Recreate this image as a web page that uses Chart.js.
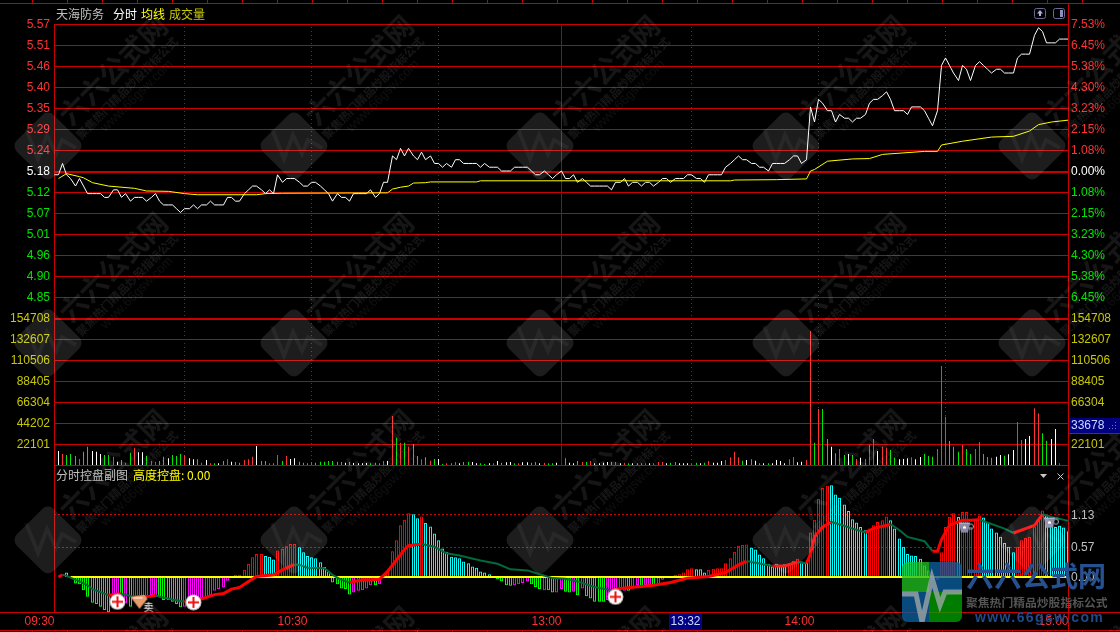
<!DOCTYPE html>
<html><head><meta charset="utf-8">
<style>html,body{margin:0;padding:0;background:#000;overflow:hidden}canvas{display:block}</style>
<script src="https://cdn.jsdelivr.net/npm/chart.js@4"></script></head>
<body><canvas id="c" width="1120" height="632"></canvas>
<script>
// ---- DATA ----
const stockName="天海防务";
const prevClose=5.18;
const priceLabels=["5.57","5.51","5.46","5.40","5.35","5.29","5.24","5.18","5.12","5.07","5.01","4.96","4.90","4.85"];
const pctLabels=["7.53%","6.45%","5.38%","4.30%","3.23%","2.15%","1.08%","0.00%","1.08%","2.15%","3.23%","4.30%","5.38%","6.45%"];
const volTicks=[154708,132607,110506,88405,66304,44202,22101,0];
const subLabels=["1.13","0.57","0.00"];
const subTicks=[1.14,0.55,0];
const timeLabels=["09:30","10:30","13:00","14:00","15:00"];
const timeIdx=[0,60,120,180,240];
const dottedIdx=[30.8,61,91,150.8,181,211];
const solidIdx=[120];
// price in cents per minute
const priceCents=[
517,517,520,517,516,514,516,514,512,512,
512,512,511,511,513,513,511,512,510,511,
511,511,510,511,512,510,509,509,509,508,
507,508,508,509,508,509,509,510,509,509,
509,511,511,510,510,512,513,514,514,513,
512,513,512,517,515,516,516,516,515,514,
514,515,515,514,513,512,510,512,511,511,
510,512,512,512,512,513,511,512,515,515,
522,521,524,522,524,522,521,523,521,522,
520,520,519,520,519,521,521,520,520,520,
520,519,520,519,519,519,518,518,518,519,
519,519,519,518,517,517,518,517,516,517,
518,516,516,517,515,516,515,514,514,514,
514,514,513,515,515,516,514,515,515,514,
515,515,514,515,516,516,515,516,516,516,
517,517,516,516,515,517,517,517,517,519,
520,521,522,521,521,520,520,519,519,518,
520,520,520,520,521,522,522,520,521,535,
531,537,536,534,534,531,533,532,532,531,
532,532,533,536,537,537,538,539,537,534,
534,534,533,535,535,535,534,532,530,534,
546,548,546,544,542,546,545,542,546,547,
546,545,544,545,545,544,544,544,548,549,
549,549,554,556,555,552,552,552,553,553,553];
// average line: minute index and price (cents)
const avgIdx=[1,3,6,7,9,13,19,22,27,31,34,48,50,54,79,80,82,84,85,88,89,100,101,160,161,171,178,179,180,183,189,193,196,206,209,210,215,222,227,231,233,236,240];
const avgCents=[516,517.3,516.5,516.2,514.9,514,513.4,512.7,512.6,512,511.7,511.7,512,512.1,512.2,513.2,513.7,514,514.8,514.9,515.1,515.1,515.4,515.4,515.6,515.7,515.9,518,518.4,520.6,521.2,521.3,522.4,523.2,523.2,524.9,525.9,527,527.2,528.6,530.3,531,531.5];
const volumes=[
null,14742,11583,10530,11583,9477,6318,14040,19305,14742,
14040,11583,10530,10530,8775,3510,5265,2457,12987,18252,
13338,13338,9477,4212,3510,4212,8775,7020,10530,9477,
11583,10530,7020,5967,5967,2457,5265,1755,1755,1755,
4212,5967,3510,3159,2457,5265,5967,8775,20007,4212,
4212,1755,1755,10530,4212,9477,6318,7020,3510,2457,
1755,3159,2457,3510,3510,4212,4212,3510,3159,2457,
3159,2106,1755,1755,2106,1755,2457,1755,4212,4212,
51597,28782,23517,23517,19305,22113,9477,5967,8073,4563,
6318,6318,1053,1755,1755,3159,1755,3159,3159,3159,
1755,1755,1053,1755,1755,4212,2457,2808,3159,1755,
1755,2808,2808,2457,3159,1755,2457,1755,1755,2457,
null,7020,2457,1755,4212,3159,3159,4212,1755,1755,
2457,3159,3159,3159,1755,2457,1755,1755,1755,1755,
1755,1755,1755,3159,3159,1755,2457,3159,1755,1755,
1755,1755,2457,1755,2457,4212,2457,2457,4212,5265,
8073,14040,8073,4563,5265,5967,4563,1755,1755,1755,
1755,5265,4212,1755,5967,8424,2808,3510,5265,141102,
23517,58968,58968,27378,19305,12285,16848,10530,11583,10530,
6318,7722,6318,21060,27378,14742,19305,18252,15795,7722,
5967,6318,7020,8073,5967,8424,11583,9477,8775,16848,
104247,50895,25272,19305,14040,21060,16848,11583,16848,24219,
11583,8424,7722,8775,10530,9828,11232,15795,45279,26325,
27378,30537,59670,54405,33345,25623,27378,37908,1755,null,19305];
// tick direction per minute: r up, g down, w flat
const volDir=(".wrgggrggw"+"wwggrwgrgr"+"wwgrrggwgg"+"grwwgrwrgw"+"grwggrrrwg"+"grgrgrwwgg"+"grgggggggw"+"gwwwwgggrw"+"rgrgrggrgr"+"gwgrgrwggw"+"wggwrwgwwg"+"rwwggwrggw"+".gwwgrgrww"+"wwgrwrgwgg"+"rwrrrwggww"+"wrgwgrwwwr"+"rrrgwgwgwg"+"wwwwrrwwrr"+"grggwgrgwg"+"rwrrrwrrgg"+"wwwrwwgggr"+"rrgggrggrr"+"gggwwgwwrr"+"wwrrggwwr."+"w").split("");
// sub-indicator histogram per minute
const subBars=[
null,null,null,.08,null,-.12,-.13,-.24,-.36,-.47,
-.49,-.54,-.60,-.64,-.42,-.36,-.33,-.48,-.54,-.39,
-.39,-.39,-.36,-.33,-.36,-.36,-.42,-.42,-.45,-.49,
-.55,-.54,-.48,-.42,-.40,-.39,-.37,-.33,-.25,-.22,
-.19,-.07,null,.04,.04,.13,.24,.36,.42,.42,
.38,.37,.32,.48,.51,.56,.60,.60,.54,.45,
.38,.36,.34,.27,.18,.10,-.10,-.13,-.21,-.22,
-.32,-.28,-.25,-.24,-.21,-.15,-.15,-.13,.01,.10,
.47,.67,.94,1.04,1.16,1.14,1.07,1.10,.98,.92,
.79,.67,.52,.46,.37,.36,.34,.28,.25,.19,
.17,.10,.08,.05,null,-.04,-.08,-.15,-.16,-.15,
-.13,-.11,-.08,-.13,-.18,-.22,-.24,-.24,-.28,-.28,
-.22,-.27,-.28,-.27,-.33,-.21,-.35,-.39,-.45,-.45,
-.45,-.42,-.36,-.30,-.22,-.25,-.25,-.21,-.15,-.19,
-.15,-.15,-.15,-.13,-.05,null,null,.04,.05,.08,
.14,.16,.14,.14,.08,.13,.15,.16,.16,.25,
.34,.46,.57,.58,.59,.53,.50,.41,.34,.24,
.19,.24,.22,.23,.24,.29,.33,.28,.26,.81,
1.04,1.42,1.62,1.66,1.67,1.50,1.44,1.32,1.20,1.05,
.99,.91,.85,.88,.94,1.00,1.03,1.10,1.03,.88,
.70,.55,.42,.39,.38,.33,.21,.12,-.06,-.05,
.45,.91,1.09,1.16,1.09,1.18,1.18,.91,1.06,1.12,
1.08,1.00,.88,.81,.73,.62,.55,.45,.55,.67,
.71,.73,.92,1.06,1.21,1.12,1.00,.91,.93,.90,.83];
const subKind=("...c.ggggg"+"ggggmmgmgm"+"mmmmmggggg"+"gmmmmmmmmm"+"mm.rrrrrrr"+"cccrrrrrcc"+"ccccccgggg"+"gmmmmmgmrr"+"rrrrrccrcc"+"cccccccccc"+"cccc.ggggm"+"mmmgggmggm"+"mggmgmgggg"+"gmmmmmgmmg"+"mmgmm..rrr"+"rrcccrrrrr"+"rrrrrccccc"+"ccccrrrccr"+"rrrrcccccc"+"cccrrrrrcc"+"ccccccccgm"+"rrrrcrrrrr"+"ccccccccrr"+"rrrrrccccc"+"c").split("");
// sub-indicator control line
const subLineIdx=[1,2,3,4,6,8,9,13,15,16,19,23,24,25,28,31,35,38,40,42,44,46,48,52,54,57,58,60,64,66,68,70,73,75,77,79,81,83,84,87,90,93,96,101,105,108,112,115,118,121,124,128,132,134,142,146,150,155,159,162,164,166,170,173,176,178,179,180,182,184,186,189,192,194,198,200,202,206,208,209,210,212,215,217,219,225,227,230,232,234,236,240];
const subLineVal=[0,.04,.02,-.01,-.08,-.15,-.22,-.33,-.31,-.31,-.36,-.35,-.33,-.36,-.41,-.45,-.40,-.32,-.30,-.22,-.19,-.08,.01,.04,.13,.23,.22,.17,.16,.04,-.05,-.10,-.05,-.05,-.04,.10,.31,.50,.57,.60,.55,.43,.39,.30,.24,.14,.12,.05,-.02,-.03,-.08,-.18,-.24,-.21,-.15,-.10,-.02,.01,.08,.22,.29,.26,.20,.20,.27,.25,.42,.73,.91,1.00,.96,.88,.81,.88,.96,.85,.73,.65,.47,.47,.68,.94,1.03,1.03,1.04,.88,.80,.88,.94,1.14,1.09,1.02];
const zeroLineIdx=[4,240];
const buyIdx=[15,33,133], buyVal=[-.45,-.46,-.36];
const sellIdx=[21], sellVal=[-.47];
const cupIdx=[216,236], cupVal=[.89,.98];
const watchVolume="33678", crossTime="13:32", controlValue="0.00";

// ---- STYLE ----
const RED="#c80000", UP="#ff3232", DOWN="#00e600", OLIVE="#c8c800", GREY="#c0c0c0";
const volColor={r:"#ff3232",g:"#00e600",w:"#ffffff",".":"#000"};
const subColor={r:"#ff0000",c:"#00ffff",g:"#00ff00",m:"#ff00ff",".":"#000"};
const NUM='"Liberation Sans",Arial,sans-serif', CJK='"Noto Sans CJK SC",sans-serif';

function mk(w,h,fn){const c=document.createElement('canvas');c.width=w;c.height=h;fn(c.getContext('2d'),w,h);return c;}
const buyIcon=mk(17,17,(g)=>{g.fillStyle='#bbb';g.beginPath();g.arc(8.5,8.5,8,0,7);g.fill();g.fillStyle='#fff';g.beginPath();g.arc(8.5,8.5,7,0,7);g.fill();g.fillStyle='#f01010';g.fillRect(3,7.5,11,2);g.fillRect(7.5,3,2,11);});
const sellIcon=mk(26,20,(g)=>{g.fillStyle='#e89a6a';g.beginPath();g.moveTo(1,4);g.lineTo(15,2);g.lineTo(18,6);g.lineTo(10,16);g.closePath();g.fill();g.fillStyle='#f6d0b8';g.fillRect(4,4,9,2);g.fillStyle='#fff';g.font='10px '+CJK;g.textBaseline='middle';g.fillText('卖',14,14);});
const cupIcon=mk(17,15,(g)=>{g.strokeStyle='#b0b0c8';g.lineWidth=1;g.beginPath();g.arc(13,6,2.5,0,7);g.stroke();g.fillStyle='#8a8aa8';g.beginPath();g.moveTo(1,2);g.lineTo(12,2);g.lineTo(10,12);g.lineTo(3,12);g.closePath();g.fill();g.fillStyle='#fff';g.fillRect(5,6,3,2);g.fillStyle='#e0c080';g.fillRect(6,5,1,1);g.fillStyle='#c0c0e0';g.fillRect(1,2,11,1);});

const closeStep=(5.57-prevClose)/7;
const priceVals=priceLabels.map((_,k)=>5.57-k*closeStep);
const zip=(xs,ys,f=v=>v)=>xs.map((x,i)=>({x,y:f(ys[i])}));
const idx=a=>a.map((v,i)=>({x:i,y:v}));

function axis(id,o){return Object.assign({type:'linear',display:true,offset:false,
  afterFit(s){s.width=o.w;},
  afterBuildTicks(s){s.ticks=o.vals.map(value=>({value}));},
  border:{display:false},
  grid:{display:false,drawTicks:false},
  ticks:{autoSkip:false,padding:o.pad,labelOffset:1,font:{family:NUM,size:12},color:o.color,callback:o.label,maxRotation:0}
},o.base);}
const priceColor=ctx=>{const k=ctx.index;return k<7?UP:k===7?'#ffffff':DOWN;};

const scales={
 x:{type:'linear',min:0,max:240,position:'bottom',offset:false,
    afterFit(s){s.height=20;},
    afterBuildTicks(s){ if(!s._snap){s._snap=true;const f=s.getPixelForValue;s.getPixelForValue=function(v,i){return Math.floor(f.call(this,v,i))+0.5;};}
      s.ticks=timeIdx.map(value=>({value}));},
    border:{display:false},grid:{display:false,drawTicks:false,offset:false},
    ticks:{autoSkip:false,align:'end',padding:2,maxRotation:0,font:{family:NUM,size:12},color:UP,callback:(v,i)=>timeLabels[i]}},
 pL:axis('pL',{w:54,vals:priceVals,pad:4,color:priceColor,label:(v,i)=>priceLabels[i],
    base:{position:'left',stack:'L',stackWeight:273,weight:3,min:priceVals[13],max:5.57}}),
 vL:axis('vL',{w:54,vals:volTicks,pad:4,color:OLIVE,label:v=>v?String(v):'',
    base:{position:'left',stack:'L',stackWeight:168,weight:2,min:0,max:176808}}),
 sL:axis('sL',{w:54,vals:subTicks.slice(0,2),pad:4,color:'#000',label:()=>'',
    base:{position:'left',stack:'L',stackWeight:147,weight:1,min:-.636,max:2.036}}),
 pR:axis('pR',{w:52,vals:priceVals,pad:3,color:priceColor,label:(v,i)=>pctLabels[i],
    base:{position:'right',stack:'R',stackWeight:273,weight:1,min:priceVals[13],max:5.57}}),
 vR:axis('vR',{w:52,vals:volTicks,pad:3,color:OLIVE,label:v=>v?String(v):'',
    base:{position:'right',stack:'R',stackWeight:168,weight:2,min:0,max:176808}}),
 sR:axis('sR',{w:52,vals:subTicks,pad:3,color:GREY,label:(v,i)=>subLabels[i],
    base:{position:'right',stack:'R',stackWeight:147,weight:3,min:-.636,max:2.036}})
};

// frame, grid, watermark, captions
const chrome={id:'chrome',
 beforeDatasetsDraw(ch){const g=ch.ctx,a=ch.chartArea,x=ch.scales.x,top=a.top,volB=ch.scales.vL.bottom;
  g.save();g.fillStyle=RED;
  const W=a.right-a.left;
  priceVals.forEach((v,k)=>{const y=Math.round(ch.scales.pL.getPixelForValue(v));g.fillRect(a.left,y,W,k===7?2:1);});
  volTicks.forEach((v,k)=>{const y=Math.round(ch.scales.vL.getPixelForValue(v));g.fillRect(a.left,y,W,k===0?2:1);});
  subTicks.slice(0,2).forEach(v=>{const y=Math.round(ch.scales.sL.getPixelForValue(v));for(let p=a.left;p<a.right;p+=4)g.fillRect(p,y,2,1);});
  g.fillRect(0,3,1120,1);g.fillRect(0,a.bottom,1120,1);g.fillRect(0,630,1120,1);
  g.fillRect(54,a.top,1,a.bottom-a.top);g.fillRect(1068,3,1,629);
  for(let t=1082;t>0;t-=35){g.fillRect(t,0,1,3);g.fillRect(t,630,1,2);}
  solidIdx.forEach(i=>{const p=Math.floor(x.getPixelForValue(i));g.fillStyle='#b00000';g.fillRect(p,top,1,volB-top);});
  g.fillStyle=RED;
  dottedIdx.forEach(i=>{const p=Math.floor(x.getPixelForValue(i));for(let y=top+3;y<volB-3;y+=4)g.fillRect(p,y,1,1);});
  g.restore();},
 afterDraw(ch){const g=ch.ctx;g.save();
  // watermark tiles
  for(const cy of [-50,146,343,540,737])for(const cx of [48,294,540,786,1032]){
   g.save();g.translate(cx,cy);
   g.save();g.rotate(Math.PI/4);g.fillStyle='rgba(255,255,255,.115)';g.beginPath();g.roundRect(-26,-26,52,52,8);g.fill();g.restore();
   g.strokeStyle='rgba(255,255,255,.05)';g.lineWidth=4;g.beginPath();g.moveTo(-22,-17);g.lineTo(-10,13);g.lineTo(-1,-11);g.lineTo(8,8);g.lineTo(14,-6);g.lineTo(28,2);g.stroke();
   g.fillStyle='rgba(255,255,255,.085)';g.textAlign='center';g.textBaseline='middle';
   g.save();g.translate(65,-76);g.rotate(-Math.PI/4);g.font='bold 28px '+CJK;g.fillText('六六公式网',0,0);g.restore();
   g.save();g.translate(79,-58);g.rotate(-Math.PI/4);g.font='bold 11.5px '+CJK;g.fillText('聚焦热门精品炒股指标公式',0,0);g.restore();
   g.fillStyle='rgba(255,255,255,.06)';
   g.save();g.translate(89,-50);g.rotate(-Math.PI/4);g.font='13px '+NUM;g.fillText('www.66gsw.com',0,0);g.restore();
   g.restore();
  }
  // captions
  g.textBaseline='middle';g.textAlign='left';
  const cap=(t,x,y,c,f)=>{g.fillStyle=c;g.font=f||('12px '+CJK);g.fillText(t,x,y);};
  cap(stockName,56,14,GREY);cap('分时',113,14,'#ffffff');cap('均线',141,14,'#ffff00');cap('成交量',169,14,OLIVE);
  cap('分时控盘副图',56,475,GREY);cap('高度控盘: '+controlValue,133,475,'#ffff00');
  // header icons
  g.strokeStyle='#6a6a9a';g.lineWidth=1;
  for(const ix of [1034.5,1053.5]){g.beginPath();g.roundRect(ix,8.5,11,10,2);g.stroke();}
  g.fillStyle='#b0b0d0';g.beginPath();g.moveTo(1040,10);g.lineTo(1043,13.5);g.lineTo(1037,13.5);g.closePath();g.fill();g.fillRect(1039,13,2,3);
  g.fillStyle='#9090b8';g.fillRect(1060,10,3,7);
  g.fillStyle='#c8c8c8';g.beginPath();g.moveTo(1040,474);g.lineTo(1047,474);g.lineTo(1043.5,478);g.closePath();g.fill();
  g.strokeStyle='#c8c8c8';g.beginPath();g.moveTo(1057.5,473.5);g.lineTo(1063.5,479.5);g.moveTo(1063.5,473.5);g.lineTo(1057.5,479.5);g.stroke();
  // cursor boxes
  g.fillStyle='#000080';g.fillRect(669,613,33,17);g.strokeStyle='#0000c0';g.strokeRect(669.5,613.5,32,16);
  g.fillStyle='#c8d8ff';g.textAlign='center';g.font='12px '+NUM;g.fillText(crossTime,685.5,622);
  g.fillStyle='#000080';g.fillRect(1069,418,51,15);g.fillStyle=RED;g.fillRect(1069,433,51,1);
  g.fillStyle='#c8d8ff';g.textAlign='left';g.fillText(watchVolume,1071,426);g.fillStyle='#6080c0';g.fillRect(1109,428,1,1);g.fillRect(1112,425,1,1);g.fillRect(1112,428,1,1);g.fillRect(1115,422,1,1);g.fillRect(1115,425,1,1);g.fillRect(1115,428,1,1);
  // brand logo
  g.save();g.globalAlpha=.78;g.beginPath();g.roundRect(902,562,60,60,6);g.clip();
  g.fillStyle='#20c020';g.fillRect(902,562,27,30);g.fillStyle='#0a5f9e';g.fillRect(929,562,33,30);
  g.fillStyle='#0a5f9e';g.fillRect(902,592,27,30);g.fillStyle='#00a000';g.fillRect(929,592,33,30);
  g.strokeStyle='#a0a8a8';g.lineWidth=5;g.beginPath();g.moveTo(902,594);g.lineTo(916,594);g.lineTo(922,622);g.lineTo(932,578);g.lineTo(940,605);g.lineTo(945,592);g.lineTo(962,592);g.stroke();
  g.restore();
  g.fillStyle='#27508f';g.font='bold 28px '+CJK;g.textAlign='left';g.fillText('六六公式网',966,576);
  g.fillStyle='#555';g.font='bold 11.8px '+CJK;g.fillText('聚焦热门精品炒股指标公式',966,603);
  g.fillStyle='#1f4a8c';g.font='bold 14px '+NUM;g.letterSpacing='1.4px';g.fillText('www.66gsw.com',975,618);
  g.letterSpacing='0px';
  g.restore();}
};

new Chart(document.getElementById('c'),{
 data:{datasets:[
  {type:'scatter',xAxisID:'x',yAxisID:'sR',data:zip(buyIdx,buyVal),pointStyle:buyIcon,pointRadius:8},
  {type:'scatter',xAxisID:'x',yAxisID:'sR',data:zip(sellIdx,sellVal),pointStyle:sellIcon,pointRadius:8},
  {type:'scatter',xAxisID:'x',yAxisID:'sR',data:zip(cupIdx,cupVal),pointStyle:cupIcon,pointRadius:8},
  {type:'line',xAxisID:'x',yAxisID:'sR',data:zip(subLineIdx,subLineVal),pointRadius:0,borderWidth:2,clip:false,
    segment:{borderColor:c=>c.p1.parsed.y>=c.p0.parsed.y?'#ff0000':'#006a3c',borderWidth:c=>c.p1.parsed.y>=c.p0.parsed.y?3:2}},
  {type:'line',xAxisID:'x',yAxisID:'sR',data:zeroLineIdx.map(x=>({x,y:0})),pointRadius:0,borderColor:'#ffff00',borderWidth:2},
  {type:'bar',xAxisID:'x',yAxisID:'sR',grouped:false,barThickness:3,inflateAmount:0,data:idx(subBars),backgroundColor:'transparent',borderWidth:1,borderSkipped:'start',borderColor:subKind.map(k=>subColor[k])},
  {type:'line',xAxisID:'x',yAxisID:'pR',data:zip(avgIdx,avgCents,v=>v/100),pointRadius:0,borderColor:'#ffff00',borderWidth:1},
  {type:'line',xAxisID:'x',yAxisID:'pR',data:idx(priceCents).map(p=>({x:p.x,y:p.y/100})),pointRadius:0,borderColor:'#ffffff',borderWidth:1},
  {type:'bar',xAxisID:'x',yAxisID:'vR',grouped:false,barThickness:1,inflateAmount:0,data:idx(volumes),backgroundColor:volDir.map(k=>volColor[k]),borderWidth:0}
 ]},
 options:{responsive:false,animation:false,events:[],
  layout:{autoPadding:false,padding:{top:24,left:0,right:0,bottom:0}},
  plugins:{legend:{display:false},tooltip:{enabled:false},title:{display:false}},
  scales},
 plugins:[chrome]
});
</script></body></html>
